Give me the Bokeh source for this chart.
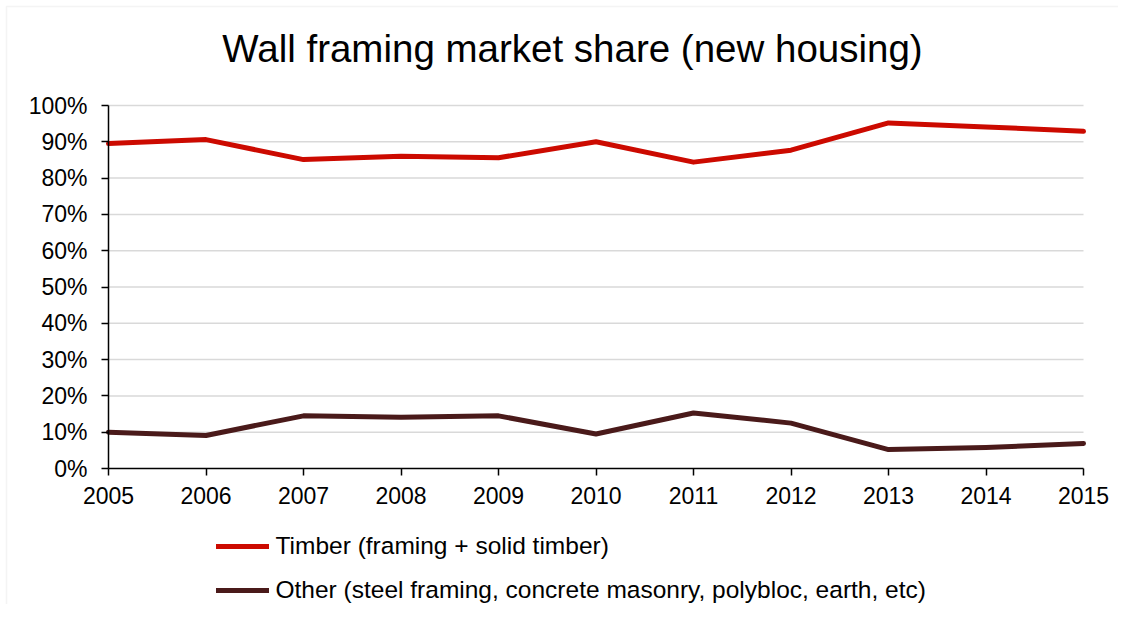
from bokeh.plotting import figure
from bokeh.models import (Range1d, FixedTicker, NumeralTickFormatter, Legend, LegendItem,
                          Label, BoxAnnotation, LinearAxis)
from bokeh.embed import file_html
from bokeh.resources import INLINE

years = [2005, 2006, 2007, 2008, 2009, 2010, 2011, 2012, 2013, 2014, 2015]
timber = [0.895, 0.906, 0.851, 0.860, 0.856, 0.900, 0.844, 0.877, 0.952, 0.941, 0.929]
other = [0.100, 0.091, 0.145, 0.141, 0.145, 0.095, 0.153, 0.125, 0.052, 0.058, 0.069]
y_ticks = [0, 0.1, 0.2, 0.3, 0.4, 0.5, 0.6, 0.7, 0.8, 0.9, 1.0]
title_text = "Wall framing market share (new housing)"
timber_label = "Timber (framing + solid timber)"
other_label = "Other (steel framing, concrete masonry, polybloc, earth, etc)"

FONT = "Liberation Sans"
RED = "#cc0a00"
DARK = "#4a1a1a"
W, H = 1118, 604
# pixel geometry of the plotting area inside the figure
PX_LEFT, PX_RIGHT, PX_TOP, PX_BOTTOM = 108, 1083, 105, 468
x0, x1 = years[0], years[-1]
ppx = (PX_RIGHT - PX_LEFT) / (x1 - x0)
ppy = (PX_BOTTOM - PX_TOP) / 1.0
x_range = Range1d(x0 - PX_LEFT / ppx, x1 + (W - PX_RIGHT) / ppx)
y_range = Range1d(-(H - PX_BOTTOM) / ppy, 1.0 + PX_TOP / ppy)

p = figure(width=W, height=H, output_backend="svg", toolbar_location=None,
           x_range=x_range, y_range=y_range,
           x_axis_location=None, y_axis_location=None,
           min_border=0)
p.outline_line_color = None
p.background_fill_color = "white"
p.border_fill_color = "white"
p.grid.visible = False

# horizontal gridlines spanning the category extent
grid_y = y_ticks[1:]
p.segment(x0=[x0] * len(grid_y), x1=[x1] * len(grid_y), y0=grid_y, y1=grid_y,
          line_color="#d9d9d9", line_width=1.5)

xaxis = LinearAxis(fixed_location=0, bounds=(x0, x1), ticker=FixedTicker(ticks=years))
yaxis = LinearAxis(fixed_location=x0, bounds=(0, 1), ticker=FixedTicker(ticks=y_ticks),
                   formatter=NumeralTickFormatter(format="0%"))
for ax in (xaxis, yaxis):
    ax.axis_line_color = "black"
    ax.axis_line_width = 1.5
    ax.major_tick_line_color = "black"
    ax.major_tick_line_width = 1.5
    ax.major_tick_in = 0
    ax.major_tick_out = 7
    ax.minor_tick_line_color = None
    ax.major_label_text_font = FONT
    ax.major_label_text_font_size = "23px"
    ax.major_label_text_color = "black"
xaxis.major_label_standoff = 11
yaxis.major_label_standoff = 14
p.add_layout(xaxis, "below")
p.add_layout(yaxis, "left")

r1 = p.line(years, timber, line_color=RED, line_width=5, line_join="round", line_cap="round")
r2 = p.line(years, other, line_color=DARK, line_width=5, line_join="round", line_cap="round")

legend = Legend(items=[LegendItem(label=timber_label, renderers=[r1]),
                       LegendItem(label=other_label, renderers=[r2])],
                location=(215.5, 0), orientation="vertical",
                glyph_width=53, glyph_height=24, label_height=24,
                label_standoff=7, spacing=16, padding=0, margin=0,
                label_text_font=FONT, label_text_font_size="24.5px",
                label_text_color="black",
                border_line_color=None, background_fill_alpha=0)
p.add_layout(legend, "center")

title = Label(x=572, y=H - 48, x_units="screen", y_units="screen", text=title_text,
              text_font=FONT, text_font_size="38.5px", text_color="black",
              text_align="center", text_baseline="middle")
p.add_layout(title)

# chart border (left and top edges)
border = BoxAnnotation(left=6, right=5000, top=H - 6, bottom=-5000,
                       left_units="screen", right_units="screen",
                       top_units="screen", bottom_units="screen",
                       fill_alpha=0, line_color="#d9d9d9", line_width=1.5)
p.add_layout(border)

open("out.html", "w").write(file_html(p, INLINE))
